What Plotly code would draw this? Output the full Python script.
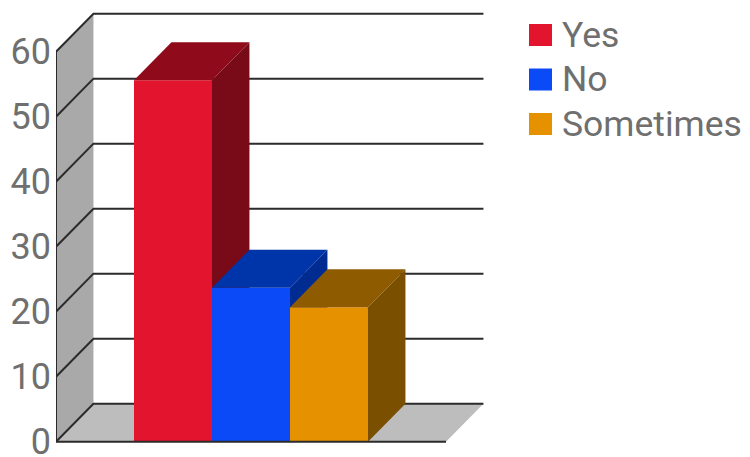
import plotly.graph_objects as go

# Survey answers and their share
categories = ["Yes", "No", "Sometimes"]
values = [55.6, 23.7, 20.7]
y_ticks = [0, 10, 20, 30, 40, 50, 60]

# Face colours for each bar (front, top, right side)
front_colors = ["#e3142d", "#0a4bf7", "#e69100"]
top_colors = ["#8f0b1b", "#0034a9", "#8e5b00"]
side_colors = ["#790a17", "#002b91", "#7a4f00"]

# Pseudo-3D geometry in axis units
DX = 0.48        # depth offset along x
DY = 5.85        # depth offset along y
FLOOR_END = 5.0  # right end of the front floor edge
Y_MAX = y_ticks[-1]

LINE = "#2b2b2b"
TEXT = "#6f6f6f"

W, H = 750, 457
L_M, T_M, B_M = 56, 10, 11
X_RANGE = [0, 5.5]
PX_PER_X = 78.0
plot_w = (X_RANGE[1] - X_RANGE[0]) * PX_PER_X
R_M = W - L_M - plot_w
plot_h = H - T_M - B_M
PX_PER_Y = 6.5
zero_px = 441.7  # baseline row in page pixels
y_lo = -((H - B_M) - zero_px) / PX_PER_Y
y_hi = y_lo + plot_h / PX_PER_Y

fig = go.Figure()


def poly(xs, ys, fill, line_color=None, line_width=0):
    fig.add_trace(go.Scatter(
        x=list(xs) + [xs[0]], y=list(ys) + [ys[0]],
        mode="lines", fill="toself", fillcolor=fill,
        line=dict(color=line_color or fill, width=line_width),
        hoverinfo="skip", showlegend=False,
    ))


# Left wall and floor
poly([0, 0, DX, DX], [0, Y_MAX, Y_MAX + DY, DY], "#a9a9a9")
poly([0, DX, FLOOR_END + DX, FLOOR_END], [0, DY, DY, 0], "#bdbdbd")

# Grid: diagonal on the wall, then horizontal on the back wall
gx, gy = [], []
for t in y_ticks:
    gx += [0, DX, FLOOR_END + DX, None]
    gy += [t, t + DY, t + DY, None]
fig.add_trace(go.Scatter(x=gx, y=gy, mode="lines",
                         line=dict(color=LINE, width=2),
                         hoverinfo="skip", showlegend=False))

# Bars, drawn left to right so each one hides the previous side face
for i, v in enumerate(values):
    x0, x1 = 1 + i, 2 + i
    poly([x0, x1, x1, x0], [0, 0, v, v], front_colors[i])
    poly([x0, x1, x1 + DX, x0 + DX], [v, v, v + DY, v + DY], top_colors[i])
    poly([x1, x1 + DX, x1 + DX, x1], [0, DY, v + DY, v], side_colors[i])

# Front axis edges
fig.add_trace(go.Scatter(x=[0, 0, FLOOR_END], y=[Y_MAX, 0, 0], mode="lines",
                         line=dict(color=LINE, width=2),
                         hoverinfo="skip", showlegend=False))


# Legend drawn in page pixels
def px_x(px):
    return (px - L_M) / plot_w


def px_y(py):
    return ((H - B_M) - py) / plot_h


shapes, annotations = [], []
for i, name in enumerate(categories):
    cy = 35 + i * 44.5
    shapes.append(dict(type="rect", xref="paper", yref="paper",
                       x0=px_x(529), x1=px_x(552),
                       y0=px_y(cy + 11), y1=px_y(cy - 11),
                       fillcolor=front_colors[i], line=dict(width=0)))
    annotations.append(dict(xref="paper", yref="paper", x=px_x(560), y=px_y(cy),
                            text=name, showarrow=False, xanchor="left",
                            yanchor="middle",
                            font=dict(family="Roboto", size=35.5, color=TEXT)))

fig.update_layout(
    width=W, height=H,
    margin=dict(l=L_M, r=R_M, t=T_M, b=B_M, autoexpand=False),
    paper_bgcolor="white", plot_bgcolor="white",
    showlegend=False,
    shapes=shapes, annotations=annotations,
    xaxis=dict(visible=False, range=X_RANGE, fixedrange=True,
               automargin=False),
    yaxis=dict(range=[y_lo, y_hi], tickvals=y_ticks, showgrid=False,
               zeroline=False, showline=False, ticks="",
               ticklabelstandoff=4, ticklabeloverflow="allow",
               automargin=False,
               tickfont=dict(family="Roboto", size=36, color=TEXT),
               fixedrange=True),
)

fig.write_html("out.html")
